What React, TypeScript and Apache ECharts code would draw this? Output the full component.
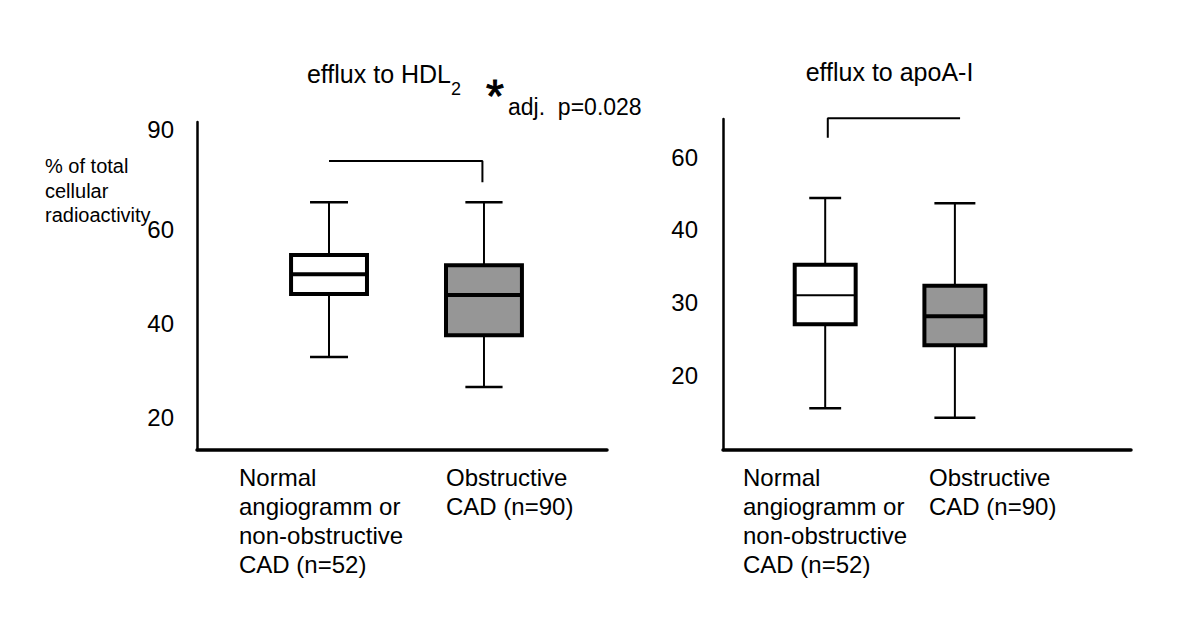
import React, { useEffect, useRef } from "react";
import * as echarts from "echarts";

const FONT = '"Liberation Sans", Arial, Helvetica, sans-serif';

// Category labels and their x positions on the value-typed x axes
const categories = [
  "Normal\nangiogramm or\nnon-obstructive\nCAD (n=52)",
  "Obstructive\nCAD (n=90)",
];
const categoryPositions = [1, 2];

// Box statistics: [min, Q1, median, Q3, max]
const hdlBoxes = [
  [32.8, 46.2, 50.4, 54.5, 65.7],
  [26.4, 37.4, 46.0, 52.3, 65.7],
];
const apoBoxes = [
  [15.4, 27.0, 31.0, 35.2, 44.4],
  [14.1, 24.1, 28.1, 32.3, 43.7],
];

// Tick labels as printed on the original axes
const hdlTickValues = [20, 40, 60, 81.3];
const hdlTickLabels = ["20", "40", "60", "90"];
const apoTickValues = [20, 30, 40, 50];
const apoTickLabels = ["20", "30", "40", "60"];

// Significance brackets
const hdlBracket = [
  [1.0, 74.5],
  [1.99, 74.5],
  [1.99, 70.0],
];
const apoBracket = [
  [1.02, 52.7],
  [1.02, 55.4],
  [2.04, 55.4],
];

const titles = ["efflux to HDL", "efflux to apoA-I"];
const yAxisName = "% of total\ncellular\nradioactivity";
const significance = "adj.  p=0.028";

const BOX_FILLS = ["#ffffff", "#969696"];

function labelFormatter(values: number[], labels: string[]) {
  return (v: number) => {
    let best = 0;
    let bd = Infinity;
    values.forEach((tv, i) => {
      const d = Math.abs(tv - v);
      if (d < bd) {
        bd = d;
        best = i;
      }
    });
    return labels[best];
  };
}

function boxSeries(
  idx: number,
  boxes: number[][],
  boxHalf: number,
  capHalf: number[],
  medianWidths: number[]
) {
  return {
    type: "custom",
    xAxisIndex: idx,
    yAxisIndex: idx,
    silent: true,
    clip: false,
    data: boxes.map((b, i) => [categoryPositions[i], ...b]),
    renderItem: (params: any, api: any) => {
      const i = params.dataIndex;
      const x = api.value(0);
      const lo = api.coord([x, api.value(1)]);
      const q1 = api.coord([x, api.value(2)]);
      const med = api.coord([x, api.value(3)]);
      const q3 = api.coord([x, api.value(4)]);
      const hi = api.coord([x, api.value(5)]);
      const bw = api.size([boxHalf, 0])[0];
      const cw = api.size([capHalf[i], 0])[0];
      const cx = lo[0];
      const thin = { stroke: "#000", lineWidth: 2, fill: null };
      return {
        type: "group",
        children: [
          { type: "line", shape: { x1: cx, y1: q1[1], x2: cx, y2: lo[1] }, style: thin },
          { type: "line", shape: { x1: cx, y1: q3[1], x2: cx, y2: hi[1] }, style: thin },
          { type: "line", shape: { x1: cx - cw, y1: lo[1], x2: cx + cw, y2: lo[1] }, style: { ...thin, lineWidth: 2.5 } },
          { type: "line", shape: { x1: cx - cw, y1: hi[1], x2: cx + cw, y2: hi[1] }, style: { ...thin, lineWidth: 2.5 } },
          {
            type: "rect",
            shape: { x: cx - bw, y: q3[1], width: bw * 2, height: q1[1] - q3[1] },
            style: { fill: BOX_FILLS[i], stroke: "#000", lineWidth: 4 },
          },
          {
            type: "line",
            shape: { x1: cx - bw, y1: med[1], x2: cx + bw, y2: med[1] },
            style: { stroke: "#000", lineWidth: medianWidths[i] },
          },
        ],
      };
    },
  };
}

function bracketSeries(idx: number, data: number[][]) {
  return {
    type: "line",
    xAxisIndex: idx,
    yAxisIndex: idx,
    data,
    symbol: "none",
    silent: true,
    clip: false,
    lineStyle: { color: "#000", width: 2 },
  };
}

export default function App() {
  const ref = useRef<HTMLDivElement>(null);

  useEffect(() => {
    if (!ref.current) return;
    const chart = echarts.init(ref.current, undefined, { renderer: "svg" });

    const xAxisBase = {
      type: "value",
      axisLine: { show: true, onZero: false, lineStyle: { color: "#000", width: 3.5 } },
      axisTick: { show: false },
      axisLabel: { show: false },
      splitLine: { show: false },
    };
    const yAxisBase = {
      type: "value",
      axisLine: { show: true, onZero: false, lineStyle: { color: "#000", width: 2.5 } },
      axisTick: { show: false },
      splitLine: { show: false },
    };

    const catText = (x: number, text: string) => ({
      type: "text",
      x,
      y: 462.5,
      silent: true,
      style: {
        text,
        fontSize: 24,
        fontFamily: FONT,
        lineHeight: 29,
        fill: "#000",
        textAlign: "left",
        textVerticalAlign: "top",
        align: "left",
        verticalAlign: "top",
      },
    });

    chart.setOption({
      animation: false,
      backgroundColor: "#fff",
      grid: [
        { left: 197, top: 122, width: 410, height: 328 },
        { left: 723, top: 119, width: 408, height: 331 },
      ],
      xAxis: [
        { ...xAxisBase, gridIndex: 0, min: 0.148, max: 2.794 },
        { ...xAxisBase, gridIndex: 1, min: 0.212, max: 3.358 },
      ],
      yAxis: [
        {
          ...yAxisBase,
          gridIndex: 0,
          min: 13,
          max: 82.8,
          axisLabel: {
            customValues: hdlTickValues,
            formatter: labelFormatter(hdlTickValues, hdlTickLabels),
            fontSize: 24,
            fontFamily: FONT,
            color: "#000",
            margin: 23,
          },
        },
        {
          ...yAxisBase,
          gridIndex: 1,
          min: 9.66,
          max: 55.3,
          axisLabel: {
            customValues: apoTickValues,
            formatter: labelFormatter(apoTickValues, apoTickLabels),
            fontSize: 24,
            fontFamily: FONT,
            color: "#000",
            margin: 25,
          },
        },
      ],
      series: [
        boxSeries(0, hdlBoxes, 0.245, [0.1226, 0.12], [4, 4]),
        boxSeries(1, apoBoxes, 0.235, [0.123, 0.158], [2, 4]),
        bracketSeries(0, hdlBracket),
        bracketSeries(1, apoBracket),
      ],
      graphic: [
        {
          type: "text",
          x: 384,
          y: 61,
          silent: true,
          style: {
            text: `{a|${titles[0]}}{b|2}`,
            rich: {
              a: { fontSize: 25, fontFamily: FONT, lineHeight: 25, verticalAlign: "top", color: "#000" },
              b: { fontSize: 18, fontFamily: FONT, lineHeight: 55, verticalAlign: "middle", color: "#000" },
            },
            textAlign: "center",
            textVerticalAlign: "top",
            align: "center",
            verticalAlign: "top",
          },
        },
        {
          type: "text",
          x: 889.5,
          y: 72,
          silent: true,
          style: {
            text: titles[1],
            fontSize: 25,
            fontFamily: FONT,
            fill: "#000",
            textAlign: "center",
            textVerticalAlign: "middle",
            align: "center",
            verticalAlign: "middle",
          },
        },
        {
          type: "text",
          x: 486,
          y: 96,
          silent: true,
          style: {
            text: "*",
            fontSize: 46,
            fontFamily: FONT,
            fill: "#000",
            stroke: "#000",
            lineWidth: 1,
            textAlign: "left",
            textVerticalAlign: "middle",
            align: "left",
            verticalAlign: "middle",
          },
        },
        {
          type: "text",
          x: 508,
          y: 107,
          silent: true,
          style: {
            text: significance,
            fontSize: 23,
            fontFamily: FONT,
            fill: "#000",
            textAlign: "left",
            textVerticalAlign: "middle",
            align: "left",
            verticalAlign: "middle",
          },
        },
        {
          type: "text",
          x: 45,
          y: 153.75,
          silent: true,
          style: {
            text: yAxisName,
            fontSize: 20,
            fontFamily: FONT,
            lineHeight: 24.5,
            fill: "#000",
            textAlign: "left",
            textVerticalAlign: "top",
            align: "left",
            verticalAlign: "top",
          },
        },
        catText(239, categories[0]),
        catText(446, categories[1]),
        catText(743, categories[0]),
        catText(929, categories[1]),
      ],
    });

    return () => chart.dispose();
  }, []);

  return (
    <div
      ref={ref}
      style={{ position: "fixed", left: 0, top: 0, width: 1200, height: 635, background: "#fff" }}
    />
  );
}
